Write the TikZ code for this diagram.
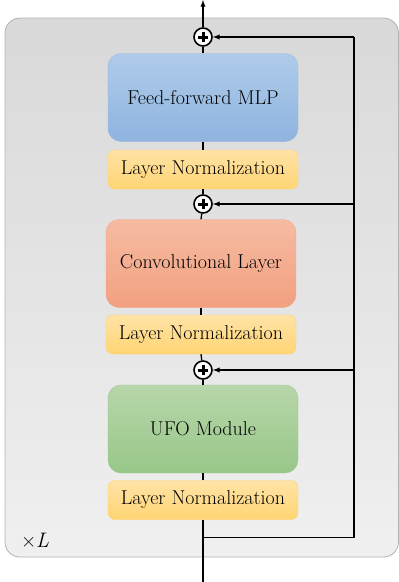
\documentclass[tikz,border=0pt]{standalone}
\usetikzlibrary{positioning}
\begin{document}
\begin{tikzpicture}[x=1pt,y=-1pt,
  block/.style={rounded corners=13pt, minimum width=190pt, minimum height=88pt,
    font=\fontsize{20}{22}\selectfont, text=black},
  normbox/.style={rounded corners=7pt, minimum width=190pt, minimum height=39pt,
    font=\fontsize{20}{22}\selectfont, text=black,
    top color=normtop, bottom color=normbot, draw=normedge},
  addop/.style={circle, draw=black, line width=1.6pt, fill=white, minimum size=18pt,
    inner sep=0pt,
    path picture={\draw[line width=3pt]
      ([xshift=-5pt]path picture bounding box.center) -- ([xshift=5pt]path picture bounding box.center)
      ([yshift=-5pt]path picture bounding box.center) -- ([yshift=5pt]path picture bounding box.center);}},
  skip/.style={line width=1.3pt}
]
\definecolor{normtop}{HTML}{FFE3A6}
\definecolor{normbot}{HTML}{FFD574}
\definecolor{normedge}{HTML}{FFD36A}

\useasboundingbox (0,0) rectangle (399,582);

% outer box
\draw[rounded corners=15pt, draw=black!30, line width=0.8pt,
  top color=black!15, bottom color=black!6] (5,18) rectangle (398.5,557);
\node[font=\fontsize{21}{24}\selectfont] (reps) at (35,540) {×\textit{L}};

\node[block, top color={rgb,255:red,175;green,203;blue,234}, bottom color={rgb,255:red,143;green,180;blue,223},
  draw={rgb,255:red,150;green,185;blue,222}] (ffn) at (203,97.5) {Feed-forward MLP};
\node[normbox] (ln1) at (203,169.5) {Layer Normalization};
\node[block, top color={rgb,255:red,246;green,187;blue,162}, bottom color={rgb,255:red,242;green,160;blue,128},
  draw={rgb,255:red,242;green,165;blue,135}] (conv) at (201,263.5) {Convolutional Layer};
\node[normbox] (ln2) at (201,334.5) {Layer Normalization};
\node[block, top color={rgb,255:red,183;green,214;blue,170}, bottom color={rgb,255:red,152;green,199;blue,137},
  draw={rgb,255:red,160;green,202;blue,145}] (ufo) at (203,429) {UFO Module};
\node[normbox] (ln3) at (203,500) {Layer Normalization};

\node[addop] (add1) at (203,37) {};
\node[addop] (add2) at (203,204) {};
\node[addop] (add3) at (203,370) {};

\coordinate (in) at (203,582);
\coordinate (out) at (203,0);
\coordinate (split) at (203,537.5);
\coordinate (back) at (354,537.5);

% main path
\draw[skip] (in) -- (ln3.south);
\draw[skip] (ufo.north) -- (add3);
\draw[skip] (add3) -- (ln2.south);
\draw[skip] (conv.north) -- (add2);
\draw[skip] (add2) -- (ln1.south);
\draw[skip] (ffn.north) -- (add1);
\draw[skip,->,>=latex] (add1) -- (out);
\draw[skip] (ln3.north) -- (ufo.south);
\draw[skip] (ln2.north) -- (conv.south);
\draw[skip] (ln1.north) -- (ffn.south);

% residual
\draw[skip] (split) -- (back) -- (back |- add1);
\draw[skip,->,>=latex] (back |- add1) -- (add1);
\draw[skip,->,>=latex] (back |- add2) -- (add2);
\draw[skip,->,>=latex] (back |- add3) -- (add3);

\end{tikzpicture}
\end{document}
